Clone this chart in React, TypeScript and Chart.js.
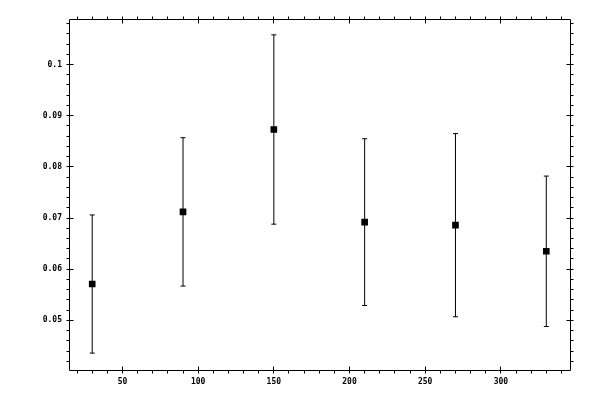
import React, { useEffect, useRef } from "react";
import { Chart, registerables } from "chart.js";

Chart.register(...registerables);

// ---- data ----
const xValues = [30, 90, 150, 210, 270, 330];
const yValues = [0.0571, 0.0712, 0.0873, 0.0692, 0.0686, 0.0635];
const yErrors = [0.0135, 0.0145, 0.0185, 0.0163, 0.0179, 0.0147];

const xMajorTicks = [50, 100, 150, 200, 250, 300];
const xTickLabels = ["50", "100", "150", "200", "250", "300"];
const yMajorTicks = [0.05, 0.06, 0.07, 0.08, 0.09, 0.1];
const yTickLabels = ["0.05", "0.06", "0.07", "0.08", "0.09", "0.1"];

const X_MIN = 15;
const X_MAX = 346;
const X_MINOR_STEP = 10;
const Y_MIN = 0.0402;
const Y_MAX = 0.1088;
const Y_MINOR_STEP = 0.002;

const majorIndex = (list: number[], v: number) =>
  list.findIndex((m) => Math.abs(m - v) < 1e-7);

const snap = (v: number) => Math.floor(v) + 0.5;

const framePlugin = {
  id: "frameTicks",
  afterDatasetsDraw(chart: any) {
    const { ctx, chartArea: a, scales } = chart;
    const xs = scales.x;
    const ys = scales.y;
    const L = snap(a.left);
    const R = snap(a.right);
    const T = snap(a.top);
    const B = snap(a.bottom);
    ctx.save();
    ctx.strokeStyle = "#000";
    ctx.lineWidth = 1;
    ctx.beginPath();
    ctx.moveTo(L, T);
    ctx.lineTo(R, T);
    ctx.lineTo(R, B);
    ctx.lineTo(L, B);
    ctx.closePath();
    ctx.stroke();

    ctx.beginPath();
    for (const t of xs.ticks) {
      const px = snap(xs.getPixelForValue(t.value));
      const major = majorIndex(xMajorTicks, t.value) >= 0;
      const inn = major ? 4 : 0;
      const out = 3;
      ctx.moveTo(px, B - inn);
      ctx.lineTo(px, B + out);
      ctx.moveTo(px, T + inn);
      ctx.lineTo(px, T - out);
    }
    for (const t of ys.ticks) {
      const py = snap(ys.getPixelForValue(t.value));
      const major = majorIndex(yMajorTicks, t.value) >= 0;
      const inn = major ? 4 : 0;
      const out = 3;
      ctx.moveTo(L + inn, py);
      ctx.lineTo(L - out, py);
      ctx.moveTo(R - inn, py);
      ctx.lineTo(R + out, py);
    }
    ctx.stroke();
    ctx.restore();
  },
};

export default function App() {
  const canvasRef = useRef<HTMLCanvasElement | null>(null);

  useEffect(() => {
    const canvas = canvasRef.current;
    if (!canvas) return;

    const errorSets = xValues.map((x, i) => ({
      type: "scatter" as const,
      data: [
        { x, y: yValues[i] - yErrors[i] },
        { x, y: yValues[i] + yErrors[i] },
      ],
      showLine: true,
      borderColor: "#000",
      borderWidth: 1,
      pointStyle: "line" as const,
      pointRadius: 2.5,
      pointBorderWidth: 1,
      pointBorderColor: "#000",
      pointBackgroundColor: "#000",
      order: 2,
      clip: false as any,
    }));

    const tickFont = { family: "'DejaVu Sans Mono', monospace", size: 8, weight: "bold" as const };

    const chart = new Chart(canvas, {
      type: "scatter",
      data: {
        datasets: [
          {
            data: xValues.map((x, i) => ({ x, y: yValues[i] })),
            pointStyle: "rect",
            pointRadius: 4.7,
            pointBorderWidth: 0,
            backgroundColor: "#000",
            borderColor: "#000",
            showLine: false,
            order: 0,
          } as any,
          ...errorSets,
        ],
      },
      plugins: [framePlugin],
      options: {
        animation: false,
        responsive: false,
        maintainAspectRatio: false,
        layout: { padding: { left: 0, top: 19.5, right: 29.5, bottom: 0 } },
        plugins: {
          legend: { display: false },
          tooltip: { enabled: false },
          title: { display: false },
        },
        scales: {
          x: {
            type: "linear",
            position: "bottom",
            min: X_MIN,
            max: X_MAX,
            grid: { display: false, drawTicks: false },
            border: { display: false },
            afterFit: (s: any) => {
              s.height = 29.5;
            },
            ticks: {
              stepSize: X_MINOR_STEP,
              includeBounds: false,
              autoSkip: false,
              maxRotation: 0,
              minRotation: 0,
              padding: 6.5,
              color: "#000",
              font: tickFont,
              callback: (v: any) => {
                const k = majorIndex(xMajorTicks, Number(v));
                return k >= 0 ? xTickLabels[k] : "";
              },
            },
          },
          y: {
            type: "linear",
            position: "left",
            min: Y_MIN,
            max: Y_MAX,
            grid: { display: false, drawTicks: false },
            border: { display: false },
            afterFit: (s: any) => {
              s.width = 69.5;
            },
            ticks: {
              stepSize: Y_MINOR_STEP,
              includeBounds: false,
              autoSkip: false,
              padding: 7.5,
              color: "#000",
              font: tickFont,
              callback: (v: any) => {
                const k = majorIndex(yMajorTicks, Number(v));
                return k >= 0 ? yTickLabels[k] : "";
              },
            },
          },
        },
      } as any,
    });

    return () => {
      chart.destroy();
    };
  }, []);

  return (
    <div
      style={{
        position: "absolute",
        left: 0,
        top: 0,
        width: 600,
        height: 400,
        background: "#fff",
      }}
    >
      <canvas ref={canvasRef} width={600} height={400} style={{ display: "block", width: 600, height: 400 }} />
    </div>
  );
}
